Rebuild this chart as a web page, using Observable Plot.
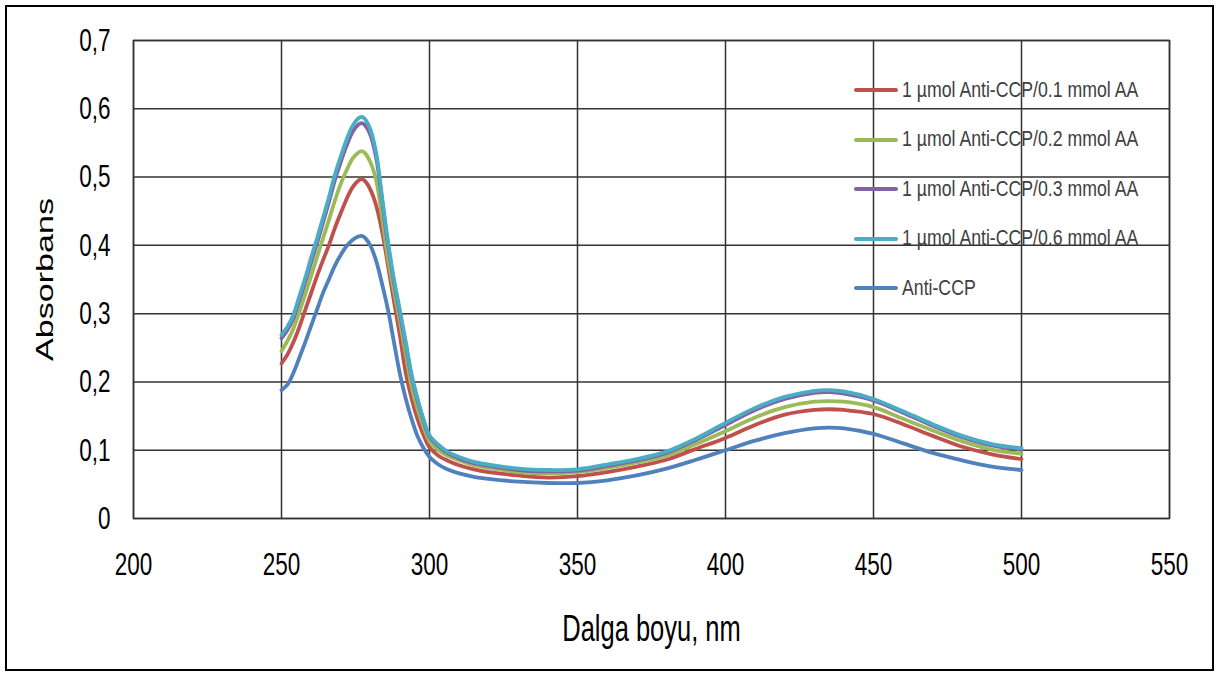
<!DOCTYPE html>
<html><head><meta charset="utf-8">
<script src="https://cdn.jsdelivr.net/npm/d3@7"></script>
<script src="https://cdn.jsdelivr.net/npm/@observablehq/plot@0.6"></script>
<style>
body{margin:0;background:#fff;}
#wrap{position:relative;width:1220px;height:680px;font-family:"Liberation Sans",Arial,sans-serif;}
#border{position:absolute;left:5px;top:5px;width:1209px;height:666px;border:2px solid #000;box-sizing:border-box;pointer-events:none;}
#legend{position:absolute;left:0;top:0;}
.row{position:absolute;height:24px;display:flex;align-items:center;white-space:nowrap;}
.sw{width:44px;height:4px;margin-right:4px;border-radius:2px;}
.lab{font-size:17.7px;color:#404040;transform:scaleY(1.2);transform-origin:left center;font-family:"Liberation Sans",Arial,sans-serif;}
</style></head>
<body><div id="wrap"><div id="border"></div></div>
<script>
const seriesNames = [
  "1 µmol Anti-CCP/0.1 mmol AA",
  "1 µmol Anti-CCP/0.2 mmol AA",
  "1 µmol Anti-CCP/0.3 mmol AA",
  "1 µmol Anti-CCP/0.6 mmol AA",
  "Anti-CCP"
];
const seriesColors = ["#C0504D", "#9BBB59", "#8064A2", "#4BACC6", "#4F81BD"];

const wavelength = [250,252,254,256,258,260,262,264,266,268,270,272,274,276,277,278,280,282,284,286,288,290,292,294,296,298,300,303,306,310,315,320,330,340,350,360,370,380,390,400,410,420,430,435,440,450,460,470,480,490,500];

const aa01 = [0.227,0.240,0.258,0.280,0.305,0.330,0.355,0.378,0.400,0.425,0.447,0.468,0.485,0.495,0.497,0.495,0.482,0.458,0.420,0.370,0.318,0.268,0.213,0.175,0.145,0.122,0.104,0.092,0.085,0.078,0.072,0.068,0.063,0.060,0.062,0.068,0.076,0.086,0.102,0.118,0.137,0.152,0.159,0.160,0.159,0.153,0.138,0.121,0.105,0.094,0.087];
const aa02 = [0.245,0.260,0.278,0.302,0.328,0.355,0.383,0.410,0.437,0.465,0.490,0.510,0.527,0.536,0.538,0.536,0.522,0.495,0.440,0.380,0.333,0.288,0.240,0.192,0.160,0.134,0.113,0.100,0.092,0.085,0.078,0.074,0.068,0.066,0.068,0.074,0.082,0.092,0.109,0.128,0.148,0.163,0.171,0.172,0.171,0.163,0.146,0.129,0.113,0.101,0.095];
const aa03 = [0.264,0.276,0.293,0.319,0.346,0.375,0.403,0.433,0.463,0.495,0.522,0.546,0.566,0.577,0.579,0.577,0.562,0.528,0.465,0.400,0.346,0.300,0.254,0.207,0.172,0.143,0.120,0.106,0.096,0.088,0.081,0.077,0.071,0.069,0.070,0.077,0.085,0.096,0.115,0.137,0.159,0.175,0.184,0.185,0.183,0.173,0.155,0.136,0.119,0.107,0.101];
const aa06 = [0.269,0.281,0.298,0.325,0.352,0.382,0.410,0.440,0.470,0.503,0.530,0.555,0.575,0.586,0.588,0.586,0.570,0.535,0.470,0.405,0.350,0.305,0.258,0.210,0.175,0.145,0.122,0.108,0.098,0.090,0.083,0.079,0.073,0.071,0.072,0.079,0.087,0.098,0.117,0.140,0.162,0.178,0.187,0.188,0.186,0.175,0.157,0.138,0.121,0.109,0.103];
const antiCCP = [0.188,0.196,0.213,0.235,0.258,0.282,0.306,0.330,0.350,0.370,0.386,0.399,0.408,0.413,0.414,0.412,0.400,0.377,0.343,0.305,0.258,0.212,0.175,0.145,0.120,0.103,0.090,0.079,0.072,0.066,0.061,0.058,0.054,0.052,0.052,0.056,0.063,0.073,0.086,0.100,0.114,0.125,0.132,0.133,0.132,0.124,0.110,0.096,0.085,0.076,0.071];

const xTicks = [200,250,300,350,400,450,500,550];
const yTicks = [0,0.1,0.2,0.3,0.4,0.5,0.6,0.7];
const xTitle = "Dalga boyu, nm";
const yTitle = "Absorbans";

const seriesValues = [aa01, aa02, aa03, aa06, antiCCP];
const rows = [];
seriesNames.forEach((name, k) => {
  wavelength.forEach((w, i) => rows.push({series: name, nm: w, A: seriesValues[k][i]}));
});

const fmtY = d => d === 0 ? "0" : d.toFixed(1).replace(".", ",");

const chart = Plot.plot({
  width: 1220,
  height: 680,
  marginLeft: 133,
  marginRight: 51,
  marginTop: 40,
  marginBottom: 162,
  style: {fontFamily: "'Liberation Sans', Arial, sans-serif", color: "#000", background: "transparent"},
  x: {domain: [200, 550]},
  y: {domain: [0, 0.7]},
  color: {domain: seriesNames, range: seriesColors},
  marks: [
    Plot.gridX(xTicks, {stroke: "#333", strokeOpacity: 1, strokeWidth: 1.5}),
    Plot.gridY(yTicks, {stroke: "#333", strokeOpacity: 1, strokeWidth: 1.5}),
    Plot.frame({stroke: "#333", strokeWidth: 1.5}),
    Plot.line(rows, {x: "nm", y: "A", z: "series", stroke: "series", strokeWidth: 3.8, curve: "catmull-rom"}),
    Plot.axisX({ticks: xTicks, tickSize: 0, tickPadding: 37, fontSize: 22.5, label: null, tickFormat: d => String(d)}),
    Plot.axisY({ticks: yTicks, tickSize: 0, tickPadding: 23, fontSize: 22.5, label: null, tickFormat: fmtY}),
    Plot.text([xTitle], {text: d => d, frameAnchor: "bottom", dy: 111, fontSize: 25.5, textAnchor: "middle", lineAnchor: "middle"}),
    Plot.text([yTitle], {text: d => d, frameAnchor: "left", rotate: -90, dx: -88, fontSize: 24, textAnchor: "middle", lineAnchor: "middle"})
  ]
});

const wrap = document.getElementById("wrap");
wrap.insertBefore(chart, wrap.firstChild);

// vertical stretch of every text around its own centre, as in the reference picture
const svgNS = "http://www.w3.org/2000/svg";
Array.from(chart.querySelectorAll("text")).forEach(function(t) {
  const b = t.getBBox();
  let cx = b.x + b.width / 2, cy = b.y + b.height / 2;
  const tl = t.transform.baseVal;
  if (tl.numberOfItems) {
    const m = tl.consolidate().matrix;
    const px = m.a * cx + m.c * cy + m.e;
    const py = m.b * cx + m.d * cy + m.f;
    cx = px; cy = py;
  }
  const g = document.createElementNS(svgNS, "g");
  g.setAttribute("transform", `translate(${cx},${cy}) scale(1,1.42) translate(${-cx},${-cy})`);
  t.parentNode.insertBefore(g, t);
  g.appendChild(t);
});

const legend = document.createElement("div");
legend.id = "legend";
seriesNames.forEach((name, i) => {
  const row = document.createElement("div");
  row.className = "row";
  row.style.left = "854px";
  row.style.top = (78 + i * 49.6) + "px";
  const sw = document.createElement("div");
  sw.className = "sw";
  sw.style.background = seriesColors[i];
  const lab = document.createElement("span");
  lab.className = "lab";
  lab.textContent = name;
  row.appendChild(sw);
  row.appendChild(lab);
  legend.appendChild(row);
});
wrap.appendChild(legend);
</script>
</body></html>
